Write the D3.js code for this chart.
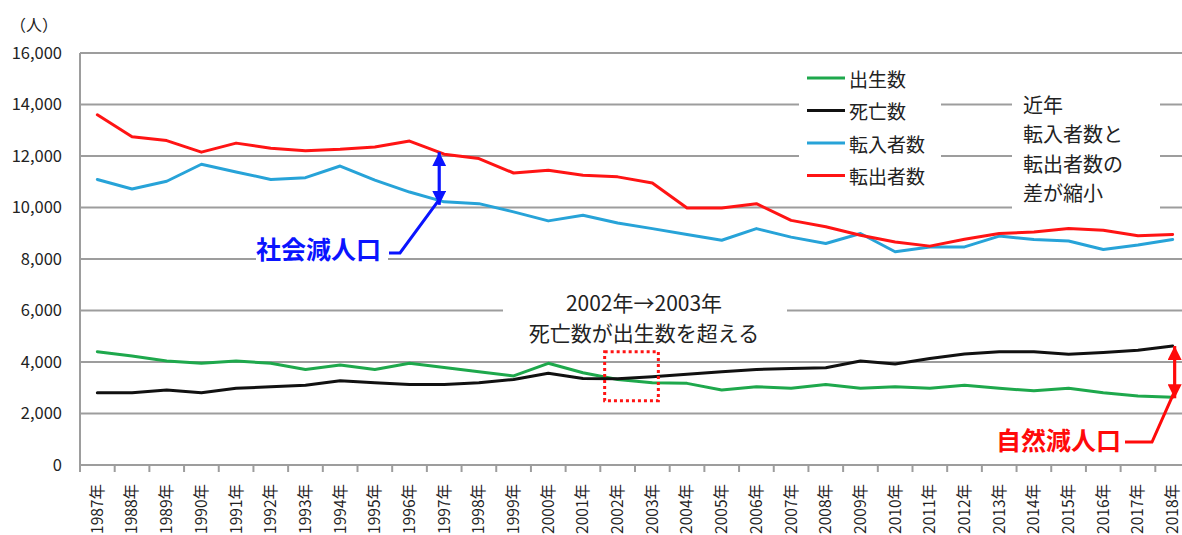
<!DOCTYPE html>
<html><head><meta charset="utf-8">
<script src="https://cdn.jsdelivr.net/npm/d3@7"></script>
<style>
html,body{margin:0;padding:0;background:#fff;overflow:hidden;}
svg{display:block;}
text{font-family:"Noto Sans CJK JP","Liberation Sans",sans-serif;}
</style></head>
<body>
<svg id="chart" width="1182" height="535"></svg>
<script>
const years = ["1987","1988","1989","1990","1991","1992","1993","1994","1995","1996","1997","1998","1999","2000","2001","2002","2003","2004","2005","2006","2007","2008","2009","2010","2011","2012","2013","2014","2015","2016","2017","2018"];
const yearLabels = years.map(v => v + "年");
const births = [4400,4230,4040,3950,4040,3950,3710,3880,3710,3950,3790,3620,3460,3950,3580,3320,3190,3170,2910,3040,2980,3130,2980,3040,2980,3100,2980,2880,2980,2810,2680,2630];
const deaths = [2810,2810,2910,2810,2980,3040,3100,3270,3190,3130,3130,3190,3320,3560,3360,3350,3430,3520,3620,3710,3750,3780,4040,3920,4140,4310,4400,4400,4300,4370,4460,4620];
const movedIn = [11090,10720,11020,11680,11380,11090,11160,11610,11060,10600,10220,10150,9830,9480,9700,9400,9180,8950,8730,9180,8850,8600,8990,8280,8470,8470,8890,8760,8700,8370,8540,8760];
const movedOut = [13600,12750,12600,12150,12500,12300,12200,12260,12350,12580,12070,11900,11340,11450,11250,11190,10950,9980,9980,10150,9500,9250,8920,8660,8500,8770,8990,9050,9180,9120,8900,8950];
const yTicks = [0,2000,4000,6000,8000,10000,12000,14000,16000];
const seriesNames = ["出生数","死亡数","転入者数","転出者数"];
const seriesColors = ["#1ea84c","#111111","#27a3d8","#ff1414"];
const seriesData = [births, deaths, movedIn, movedOut];
const noteRight = ["近年","転入者数と","転出者数の","差が縮小"];
const noteCenter = ["2002年→2003年","死亡数が出生数を超える"];

(function(){
const svg = d3.select("#chart");
const pLeft = 80, pTop = 53, pBottom = 465, pRight = 1182;
const x = d3.scaleBand().domain(years).range([pLeft, 1190]).padding(0);
const y = d3.scaleLinear().domain([0,16000]).range([pBottom, pTop]);
const cx = yr => x(yr) + x.bandwidth()/2;

// gridlines
svg.append("g").selectAll("line").data(yTicks.filter(d=>d>0)).join("line")
  .attr("x1", pLeft).attr("x2", pRight)
  .attr("y1", d=>y(d)).attr("y2", d=>y(d))
  .attr("stroke","#9d9d9d").attr("stroke-width",2);

// y axis
const yAxis = d3.axisLeft(y).tickValues(yTicks).tickFormat(d3.format(",")).tickSize(0).tickPadding(18);
const yg = svg.append("g").attr("transform",`translate(${pLeft},0)`).call(yAxis);
yg.select(".domain").remove();
yg.selectAll("text").attr("font-family","Liberation Sans, Arial, sans-serif").attr("font-size",16.5).attr("fill","#222");
svg.append("line").attr("x1",pLeft).attr("x2",pLeft).attr("y1",pTop).attr("y2",pBottom+1)
  .attr("stroke","#9d9d9d").attr("stroke-width",2);

// x axis
const xAxis = d3.axisBottom(x).tickSize(0).tickFormat((d,i)=>yearLabels[i]);
const xg = svg.append("g").attr("transform",`translate(0,${pBottom})`).call(xAxis);
xg.select(".domain").attr("stroke","#9d9d9d").attr("stroke-width",2).attr("d",`M${pLeft},0H${pRight}`);
xg.selectAll("text")
  .attr("font-family","Liberation Sans, Noto Sans CJK JP, sans-serif")
  .attr("font-size",15.5).attr("fill","#222")
  .attr("transform","rotate(-90)")
  .attr("text-anchor","end")
  .attr("x",-19).attr("y",0).attr("dy","0.35em");
// tick marks at band boundaries
svg.append("g").selectAll("line").data(years).join("line")
  .attr("x1",d=>x(d)).attr("x2",d=>x(d))
  .attr("y1",pBottom).attr("y2",pBottom+7)
  .attr("stroke","#9d9d9d").attr("stroke-width",2);

// title (人)
svg.append("text").attr("x",10).attr("y",24).attr("dominant-baseline","central")
  .attr("font-size",16).attr("fill","#222").text("（人）");

// white boxes behind annotations
const boxes = [[799,60,142,135],[1012,85,148,130],[503,288,284,58],[256,236,132,26]];
svg.append("g").selectAll("rect").data(boxes).join("rect")
  .attr("x",d=>d[0]).attr("y",d=>d[1]).attr("width",d=>d[2]).attr("height",d=>d[3]).attr("fill","#fff");

// lines
const line = d3.line().x((d,i)=>cx(years[i])).y(d=>y(d));
svg.append("g").selectAll("path").data(seriesData).join("path")
  .attr("d",d=>line(d)).attr("fill","none")
  .attr("stroke",(d,i)=>seriesColors[i]).attr("stroke-width",3)
  .attr("stroke-linejoin","round").attr("stroke-linecap","round");

// legend
const lg = svg.append("g");
seriesNames.forEach((n,i)=>{
  const yy = 78 + i*32.5;
  lg.append("line").attr("x1",807).attr("x2",845).attr("y1",yy).attr("y2",yy)
    .attr("stroke",seriesColors[i]).attr("stroke-width",3);
  lg.append("text").attr("x",849).attr("y",yy).attr("dominant-baseline","central")
    .attr("font-size",19).attr("fill","#222").text(n);
});

// right note
svg.append("g").selectAll("text").data(noteRight).join("text")
  .attr("x",1023).attr("y",(d,i)=>104+i*29.5).attr("dominant-baseline","central")
  .attr("font-size",20).attr("fill","#222").text(d=>d);

// center note
svg.append("g").selectAll("text").data(noteCenter).join("text")
  .attr("x",644).attr("y",(d,i)=>302+i*30).attr("dominant-baseline","central")
  .attr("text-anchor","middle")
  .attr("font-size",21).attr("fill","#222").text(d=>d);

// dotted rect
svg.append("rect")
  .attr("x",cx("2002")-13).attr("y",y(4400))
  .attr("width",cx("2003")+6-(cx("2002")-13)).attr("height",y(2500)-y(4400))
  .attr("fill","none").attr("stroke","#ff1414").attr("stroke-width",3).attr("stroke-dasharray","3,3");

// arrow markers
const defs = svg.append("defs");
function marker(id,color){
  const m = defs.append("marker").attr("id",id)
    .attr("viewBox","0 0 10 10").attr("refX",10).attr("refY",5)
    .attr("markerWidth",4.4).attr("markerHeight",4.4).attr("orient","auto-start-reverse")
    .attr("markerUnits","strokeWidth");
  m.append("path").attr("d","M0,0L10,5L0,10Z").attr("fill",color);
}
marker("ab","#0a14ff");
marker("ar","#ff0a0a");

// social decrease arrow (1997)
const bx = cx("1997")-5;
svg.append("line").attr("x1",bx).attr("x2",bx)
  .attr("y1",y(movedOut[10])-2).attr("y2",y(movedIn[10])+3)
  .attr("stroke","#0a14ff").attr("stroke-width",3.2)
  .attr("marker-start","url(#ab)").attr("marker-end","url(#ab)");
svg.append("path")
  .attr("d",`M389,253H400L${bx+2},${y(movedIn[10])-5}`)
  .attr("fill","none").attr("stroke","#0a14ff").attr("stroke-width",3);
svg.append("text").attr("x",256).attr("y",248).attr("dominant-baseline","central")
  .attr("font-size",25).attr("font-weight","bold").attr("fill","#0a14ff").text("社会減人口");

// natural decrease arrow (2018)
const rx = cx("2018")+2;
svg.append("line").attr("x1",rx).attr("x2",rx)
  .attr("y1",y(deaths[31])).attr("y2",y(births[31])+1)
  .attr("stroke","#ff0a0a").attr("stroke-width",3.2)
  .attr("marker-start","url(#ar)").attr("marker-end","url(#ar)");
svg.append("path")
  .attr("d",`M1125,442H1152L${rx-1},${y(births[31])-4}`)
  .attr("fill","none").attr("stroke","#ff0a0a").attr("stroke-width",3);
svg.append("text").attr("x",996).attr("y",439).attr("dominant-baseline","central")
  .attr("font-size",25).attr("font-weight","bold").attr("fill","#ff0a0a").text("自然減人口");
})();
</script>
</body></html>
